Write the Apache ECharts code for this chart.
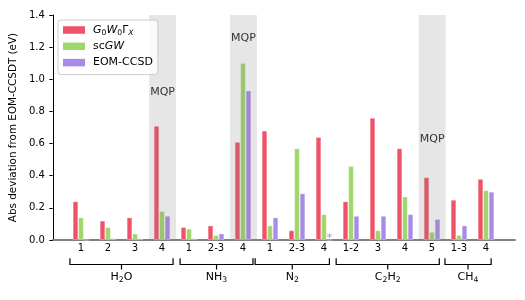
<!DOCTYPE html>
<html><head><meta charset="utf-8">
<script src="https://cdn.jsdelivr.net/npm/echarts@6/dist/echarts.min.js"></script>
<style>html,body{margin:0;padding:0;background:#fff}#c{width:525px;height:300px}</style>
</head><body><div id="c"></div>
<script>
// ---- data ----
const categories = ['1','2','3','4','1','2-3','4','1','2-3','4','1-2','3','4','5','1-3','4'];
const seriesNames = ['G0W0Gx','scGW','EOM-CCSD'];
const g0w0gx  = [0.24,0.12,0.14,0.71,0.08,0.09,0.61,0.68,0.06,0.64,0.24,0.76,0.57,0.39,0.25,0.38];
const scgw    = [0.14,0.08,0.04,0.18,0.07,0.03,1.10,0.09,0.57,0.16,0.46,0.06,0.27,0.05,0.03,0.31];
const eomccsd = [0.00,0.01,0.01,0.15,0.01,0.04,0.93,0.14,0.29,null,0.15,0.15,0.16,0.13,0.09,0.30];
const molecules = ['H2O','NH3','N2','C2H2','CH4'];
const moleculeStart = [0,4,7,10,14];
const moleculeEnd   = [3,6,9,13,15];
const mqpIndices = [3,6,13];
const mqpLabelY  = [0.92,1.256,0.627];
const yMin = 0, yMax = 1.4, yStep = 0.2;

// ---- style / layout ----
const colors = ['#ef5266','#a0d66b','#a78be6'];
const FONT = 'DejaVu Sans';
const bracketPadL = [0.41,0.33,0.55,0.55,0.52];
const bracketPadR = [0.41,0.37,0.20,0.27,0.19];
const frameMin = -29/27, frameMax = 434/27;

const rich = {
  n:   {fontFamily:FONT, fontSize:11, lineHeight:14, color:'#000'},
  it:  {fontFamily:FONT, fontSize:11, fontStyle:'italic', lineHeight:14, color:'#000'},
  sub: {fontFamily:FONT, fontSize:7.7, lineHeight:6, verticalAlign:'bottom', color:'#000'},
  subi:{fontFamily:FONT, fontSize:7.7, fontStyle:'italic', lineHeight:6, verticalAlign:'bottom', color:'#000'}
};
const legendText = {
  'G0W0Gx': '{it|G}{sub|0}{it|W}{sub|0}{n|Γ}{subi|X}',
  'scGW': '{n|sc}{it|GW}',
  'EOM-CCSD': '{n|EOM-CCSD}'
};
function molRich(m){
  return m.replace(/([A-Za-z]+)/g,'{n|$1}').replace(/(\d)/g,'{sub|$1}');
}

const purpleData = eomccsd.map(v => v === null
  ? {value:0, label:{show:true, formatter:'*', position:'top', distance:0, offset:[0,4],
      color:colors[2], fontSize:11, fontFamily:FONT}}
  : v);

const barCommon = {
  type:'bar', xAxisIndex:1, yAxisIndex:1, barWidth:5.5, barGap:'0%', z:2,
  itemStyle:{borderColor:'rgba(255,255,255,0.4)', borderWidth:0.8}
};

const option = {
  animation:false,
  backgroundColor:'#fff',
  grid:[
    {left:52, right:10, top:15, bottom:60},
    {left:67.5, right:25.5, top:15, bottom:60}
  ],
  xAxis:[
    {type:'value', gridIndex:0, min:frameMin, max:frameMax,
     axisLine:{show:true, onZero:false, lineStyle:{color:'#808080', width:2}},
     axisTick:{show:false}, axisLabel:{show:false}, splitLine:{show:false}},
    {type:'category', gridIndex:1, data:categories,
     axisLine:{show:false}, axisTick:{show:false}, splitLine:{show:false},
     axisLabel:{interval:0, margin:3, fontSize:10, fontFamily:FONT, color:'#000'}}
  ],
  yAxis:[
    {type:'value', gridIndex:0, min:yMin, max:yMax, interval:yStep,
     axisLine:{show:true, onZero:false, lineStyle:{color:'#000', width:1}},
     axisTick:{show:true, length:3.5, lineStyle:{color:'#000'}},
     axisLabel:{margin:8, fontSize:10, fontFamily:FONT, color:'#000', formatter:v=>v.toFixed(1)},
     splitLine:{show:false},
     name:'Abs deviation from EOM-CCSDT (eV)', nameLocation:'middle', nameGap:29,
     nameTextStyle:{fontSize:10.4, fontFamily:FONT, color:'#000'}},
    {type:'value', gridIndex:1, min:yMin, max:yMax, interval:yStep, show:false}
  ],
  legend:{
    orient:'vertical', left:58, top:20, padding:[3,5,5,5], itemGap:2.3,
    itemWidth:22, itemHeight:7.5, icon:'rect',
    backgroundColor:'rgba(255,255,255,0.8)', borderColor:'#cccccc', borderWidth:1, borderRadius:3,
    data:seriesNames,
    formatter:n=>legendText[n],
    itemStyle:{borderWidth:0},
    textStyle:{fontFamily:FONT, fontSize:11, lineHeight:14, color:'#000', rich:rich, padding:[0,0,0,3]}
  },
  series:[
    Object.assign({}, barCommon, {name:seriesNames[0], data:g0w0gx, itemStyle:Object.assign({}, barCommon.itemStyle, {color:colors[0]})}),
    Object.assign({}, barCommon, {name:seriesNames[1], data:scgw, itemStyle:Object.assign({}, barCommon.itemStyle, {color:colors[1]})}),
    Object.assign({}, barCommon, {name:seriesNames[2], data:purpleData, itemStyle:Object.assign({}, barCommon.itemStyle, {color:colors[2]})}),
    {type:'scatter', xAxisIndex:0, yAxisIndex:0, z:4, symbolSize:1,
     itemStyle:{color:'rgba(0,0,0,0)'},
     data:mqpIndices.map((x,i)=>[x, mqpLabelY[i]]),
     label:{show:true, position:'inside', formatter:'MQP', fontSize:11, fontFamily:FONT, color:'#000'},
     markArea:{silent:true, z:3, itemStyle:{color:'rgba(128,128,128,0.2)'},
       data:mqpIndices.map(x=>[{xAxis:x-0.5, yAxis:yMin},{xAxis:x+0.5, yAxis:yMax}])}
    }
  ]
};

const chart = echarts.init(document.getElementById('c'), null, {renderer:'canvas'});
chart.setOption(option);

const px = i => chart.convertToPixel({xAxisIndex:1}, i);
const bw = px(1) - px(0);
const yTop = 258.3, yLine = 264.5, yTick = 269.5, yText = 277.5;
const graphics = [];
molecules.forEach((m,k)=>{
  const x1 = px(moleculeStart[k]) - bracketPadL[k]*bw;
  const x2 = px(moleculeEnd[k]) + bracketPadR[k]*bw;
  const xc = (x1+x2)/2;
  graphics.push({type:'polyline', silent:true, shape:{points:[[x1,yTop],[x1,yLine],[x2,yLine],[x2,yTop]]},
    style:{stroke:'#000', lineWidth:1.2, fill:null}});
  graphics.push({type:'line', silent:true, shape:{x1:xc,y1:yLine,x2:xc,y2:yTick},
    style:{stroke:'#000', lineWidth:1.2}});
  graphics.push({type:'text', silent:true, x:xc, y:yText,
    style:{text:molRich(m), align:'center', verticalAlign:'middle', fontFamily:FONT, fontSize:11, fill:'#000', rich:rich}});
});
chart.setOption({graphic:graphics});
</script></body></html>
